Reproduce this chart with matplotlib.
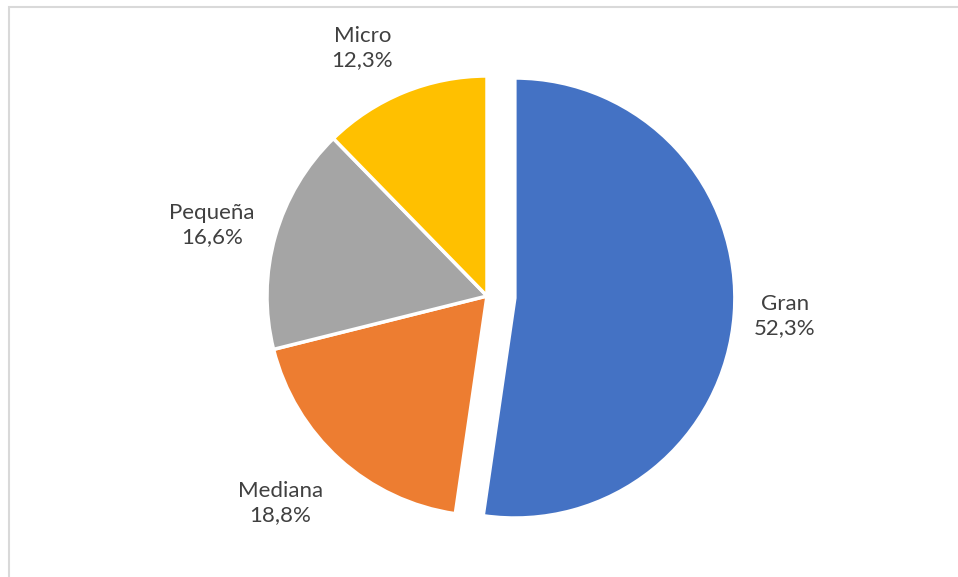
import matplotlib
matplotlib.use("Agg")
import matplotlib.pyplot as plt
from matplotlib.patches import Rectangle
import numpy as np

# data
categories = ["Gran", "Mediana", "Pequeña", "Micro"]
shares = [52.3, 18.8, 16.6, 12.3]
colors = ["#4472C4", "#ED7D31", "#A5A5A5", "#FFC000"]
explode = [0.127, 0, 0, 0]

# label placement (angle in degrees, distance in radii from slice centre)
label_angle = [-3.8, 225.1, 165.5, 116.7]
label_dist = [1.23, 1.33, 1.29, 1.26]

plt.rcParams['font.family'] = ['Lato', 'DejaVu Sans']

W, H = 958, 577
fig = plt.figure(figsize=(W / 100, H / 100), dpi=100)
ax = fig.add_axes([0, 0, 1, 1])

# pie centre (487, 296) px from top-left, radius 220 px
cx, cy, r = 487, 296, 220
wedges, _ = ax.pie(shares, colors=colors, explode=explode, startangle=90,
                   counterclock=False,
                   wedgeprops=dict(edgecolor="white", linewidth=2.5))

ax.set_xlim(-cx / r, (W - cx) / r)
ax.set_ylim(-(H - cy) / r, cy / r)
ax.set_aspect("auto")
ax.axis("off")

# data labels
for w, name, val, a, d in zip(wedges, categories, shares, label_angle, label_dist):
    t = np.deg2rad(a)
    x0, y0 = w.center
    txt = name + "\n" + f"{val:.1f}".replace(".", ",") + "%"
    ax.text(x0 + d * np.cos(t), y0 + d * np.sin(t), txt,
            ha="center", va="center", fontsize=16, color="#404040",
            linespacing=1.25)

# chart area border (only top and left visible in the crop)
fig.add_artist(Rectangle((8.5 / W, -0.1), 1.2, 1.1 - 7.5 / H,
                         transform=fig.transFigure, fill=False,
                         edgecolor="#D9D9D9", linewidth=1.5))

fig.savefig("out.png", dpi=100, facecolor="white")
